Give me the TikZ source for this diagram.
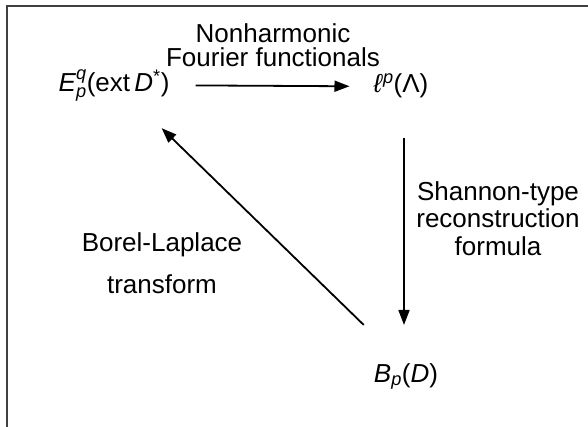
\documentclass[tikz,border=0pt]{standalone}
\usepackage{amsmath}
\usepackage{fontspec}
\setmainfont{Liberation Sans}
\usetikzlibrary{arrows.meta}
\tikzset{
  lbl/.style={font=\fontsize{26}{28}\selectfont, align=center, inner sep=0pt, anchor=base},
  obj/.style={font=\fontsize{26}{28}\selectfont, inner sep=0pt, anchor=base},
  arr/.style={line width=1.8pt, -{Triangle[length=15pt,width=11pt]}},
  frame/.style={line width=1.6pt, draw=black!75}
}
\begin{document}
\begin{tikzpicture}[x=1pt,y=-1pt]
\useasboundingbox (0,0) rectangle (588,427);
\draw[frame] (7,430) -- (7,6) -- (590,6);
\node[obj] (E) at (114,92) {\textit{E}$^{\textit{q}}_{\textit{p}}$(ext\,\textit{D}$^{\text{*}}$)};
\node[obj] (L) at (401,93) {\textit{ℓ}$^{\textit{p}}$(Λ)};
\node[obj] (B) at (406,382) {\textit{B}$_{\textit{p}}$(\textit{D})};
\node[lbl] (t1) at (273,43) {Nonharmonic};
\node[lbl] (t2) at (273,67) {Fourier functionals};
\node[lbl] (s1) at (498,201) {Shannon-type};
\node[lbl] (s2) at (498,228) {reconstruction};
\node[lbl] (s3) at (498,255) {formula};
\node[lbl] (b1) at (162,252) {Borel-Laplace};
\node[lbl] (b2) at (162,293) {transform};
\draw[arr] ([xshift=26pt]E.east) -- ([xshift=-24pt]L.west);
\draw[arr] ([xshift=3pt,yshift=-39pt]L.south) -- ([xshift=-2pt,yshift=38pt]B.north);
\draw[arr] ([xshift=-10pt,yshift=38pt]B.north west) -- ([xshift=-8pt,yshift=-27pt]E.south east);
\end{tikzpicture}
\end{document}
